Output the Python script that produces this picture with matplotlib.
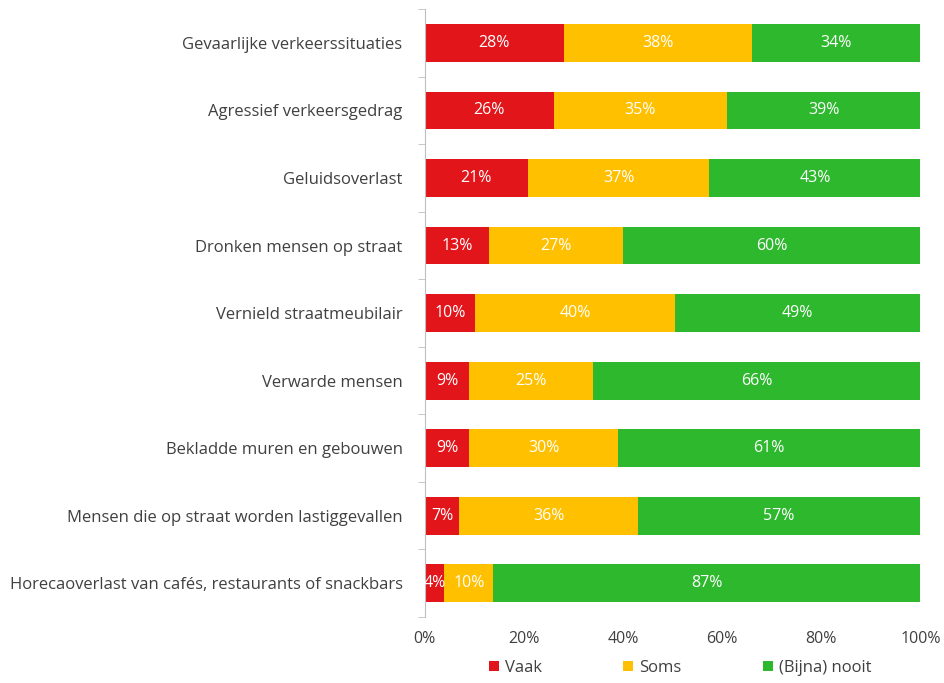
import matplotlib
matplotlib.use("Agg")
import matplotlib.pyplot as plt
import numpy as np

categories = [
    "Gevaarlijke verkeerssituaties",
    "Agressief verkeersgedrag",
    "Geluidsoverlast",
    "Dronken mensen op straat",
    "Vernield straatmeubilair",
    "Verwarde mensen",
    "Bekladde muren en gebouwen",
    "Mensen die op straat worden lastiggevallen",
    "Horecaoverlast van cafés, restaurants of snackbars",
]
vaak = [28, 26, 21, 13, 10, 9, 9, 7, 4]
soms = [38, 35, 37, 27, 40, 25, 30, 36, 10]
nooit = [34, 39, 43, 60, 49, 66, 61, 57, 87]
series_names = ["Vaak", "Soms", "(Bijna) nooit"]
colors = ["#E2151B", "#FFC000", "#2EB82E"]
xticks = [0, 20, 40, 60, 80, 100]

plt.rcParams['font.family'] = ['Open Sans', 'DejaVu Sans']

fig = plt.figure(figsize=(9.44, 6.83), dpi=100)
ax = fig.add_axes([0.450, 0.0966, 0.525, 0.890])

data = np.array([vaak, soms, nooit], dtype=float)
totals = data.sum(axis=0)
shares = data / totals * 100  # 100% stacked, as in the source chart

y = np.arange(len(categories))
left = np.zeros(len(categories))
for vals, labels, name, col in zip(shares, data, series_names, colors):
    ax.barh(y, vals, left=left, height=0.56, color=col, label=name,
            edgecolor='none')
    for yi, l, v, lab in zip(y, left, vals, labels):
        ax.text(l + v / 2, yi, f"{int(lab)}%", ha='center', va='center',
                color='white', fontsize=11.5)
    left = left + vals

ax.set_xlim(0, 100)
ax.set_ylim(len(categories) - 0.5, -0.5)
ax.set_yticks(y)
ax.set_yticklabels(categories, fontsize=12, color='#404040')
ax.set_xticks(xticks)
ax.set_xticklabels([f"{t}%" for t in xticks], fontsize=11.5, color='#404040')
for s in ['top', 'right', 'bottom']:
    ax.spines[s].set_visible(False)
ax.spines['left'].set_color('#BFBFBF')
ax.tick_params(axis='y', which='major', length=0, pad=16)
ax.set_yticks(np.arange(-0.5, len(categories), 1), minor=True)
ax.tick_params(axis='y', which='minor', length=5, color='#BFBFBF')
ax.tick_params(axis='x', length=0, pad=10)

leg = ax.legend(loc='center', bbox_to_anchor=(0.515, -0.084), ncol=3,
                frameon=False, fontsize=12, handlelength=0.6, handleheight=0.6,
                columnspacing=4.9, handletextpad=0.35)
for t in leg.get_texts():
    t.set_color('#404040')

fig.savefig("out.png", dpi=100)
